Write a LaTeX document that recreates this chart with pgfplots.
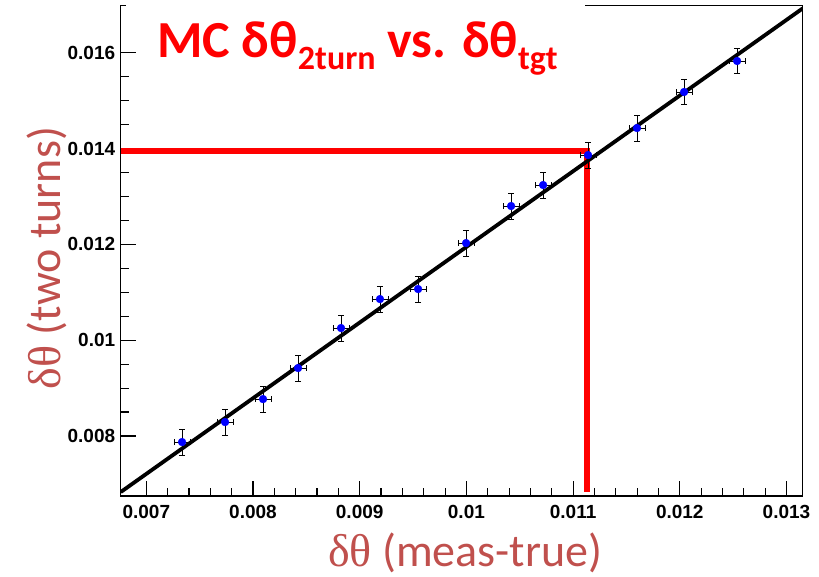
\documentclass[border=0pt]{standalone}
\usepackage{pgfplots}
\pgfplotsset{compat=1.18}
\usepackage{fontspec}
\setmainfont{Carlito}
\newfontfamily\tickfont{Liberation Sans}
\newfontfamily\grk{Liberation Serif}
\definecolor{labred}{HTML}{C0504D}
\definecolor{titred}{RGB}{255,0,0}
\definecolor{ptblue}{RGB}{0,0,255}
\begin{document}
\begin{tikzpicture}[x=1pt,y=1pt]
\useasboundingbox (0,0) rectangle (819,577);
\begin{axis}[
  at={(120.7pt,81pt)}, anchor=south west,
  scale only axis, width=682.1pt, height=490.7pt,
  xmin=0.00676, xmax=0.013153, ymin=0.006747, ymax=0.01699,
  scaled x ticks=false, scaled y ticks=false,
  axis line style={line width=1.3pt},
  xtick={0.007,0.008,0.009,0.01,0.011,0.012,0.013},
  xticklabels={0.007,0.008,0.009,0.01,0.011,0.012,0.013},
  ytick={0.008,0.01,0.012,0.014,0.016},
  yticklabels={0.008,0.01,0.012,0.014,0.016},
  minor x tick num=4, minor y tick num=3,
  xtick pos=left, ytick pos=left,
  tick align=inside,
  major tick length=15pt, minor tick length=8pt,
  every tick/.style={black, line width=1.1pt},
  tick label style={font=\tickfont\bfseries\fontsize{19}{19}\selectfont},
  xticklabel style={yshift=-6pt},
  yticklabel style={xshift=-2pt},
  xlabel={{\grk δθ} (meas-true)},
  ylabel={{\grk δθ} (two turns)},
  label style={font=\fontsize{46}{46}\selectfont, text=labred},
  xlabel style={at={(axis description cs:0.505,-0.1155)}, anchor=center},
  ylabel style={at={(axis description cs:-0.1085,0.485)}, anchor=center},
  clip=true,
]
% red guide lines
\addplot[titred, line width=6pt, line join=miter, line cap=butt] coordinates {
  (0.00676,0.013948) (0.01113,0.013948) (0.01113,0.006829)};
% fit line
\addplot[black, line width=3.8pt] coordinates {(0.00676,0.006829) (0.013153,0.016927)};
% data with errors
\addplot[only marks, mark=*, mark size=3.9pt, mark options={fill=ptblue, draw=ptblue},
  error bars/.cd, x dir=both, x explicit, y dir=both, y explicit,
  error bar style={black, line width=0.9pt},
  error mark options={black, line width=0.9pt, mark size=3pt, rotate=90}]
  table[x=x, y=y, x error=ex, y error=ey] {
x        y        ex        ey
0.007335 0.007873 0.000075 0.00027
0.007738 0.008290 0.000075 0.00027
0.008094 0.008770 0.000075 0.00027
0.008422 0.009418 0.000075 0.00027
0.008825 0.010253 0.000075 0.00027
0.009190 0.010858 0.000075 0.00027
0.009547 0.011067 0.000075 0.00027
0.009997 0.012027 0.000075 0.00027
0.010419 0.012800 0.000075 0.00027
0.010719 0.013238 0.000075 0.00027
0.011140 0.013864 0.000075 0.00027
0.011599 0.014428 0.000075 0.00027
0.012040 0.015180 0.000075 0.00027
0.012537 0.015827 0.000075 0.00027
};
\end{axis}
% title covers part of the top frame
\fill[white] (126,568) rectangle (585,577);
\node[anchor=base west, inner sep=0pt, text=titred, font=\bfseries\fontsize{52}{52}\selectfont]
  at (157,519) {MC δθ\raisebox{-12pt}{\fontsize{34}{34}\selectfont 2turn} vs. δθ\raisebox{-12pt}{\fontsize{34}{34}\selectfont tgt}};
\end{tikzpicture}
\end{document}
